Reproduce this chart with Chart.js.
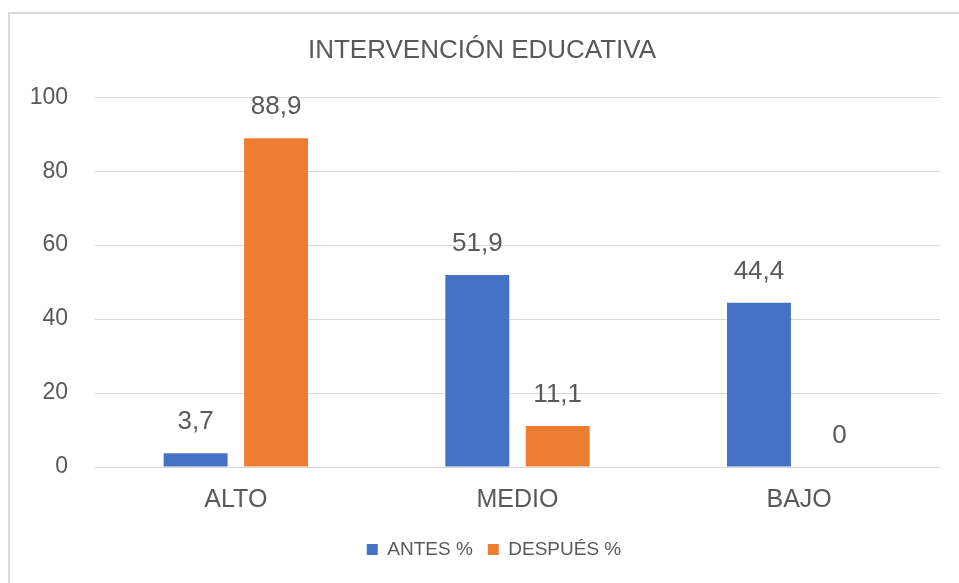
<!DOCTYPE html>
<html>
<head>
<meta charset="utf-8">
<script src="https://cdn.jsdelivr.net/npm/chart.js@4"></script>
<style>
	html, body { margin: 0; padding: 0; background: #fff; }
	#wrap { width: 959px; height: 583px; position: relative; }
</style>
</head>
<body>
<div id="wrap"><canvas id="chart" width="959" height="583"></canvas></div>
<script>
const categories = ['ALTO', 'MEDIO', 'BAJO']
const antes = [3.7, 51.9, 44.4]
const despues = [88.9, 11.1, 0]
const seriesNames = ['ANTES %', 'DESPUÉS %']
const yMin = 0
const yMax = 100
const yStep = 20

const textColor = '#595959'
const fontFamily = '"Liberation Sans", Arial, sans-serif'

// thin grey frame along top and left, like the pasted Excel chart
const frame = {
	id: 'frame',
	beforeDraw(chart) {
		const ctx = chart.ctx
		ctx.save()
		ctx.fillStyle = '#fff'
		ctx.fillRect(0, 0, chart.width, chart.height)
		ctx.strokeStyle = '#d9d9d9'
		ctx.lineWidth = 2
		ctx.beginPath()
		ctx.moveTo(9, chart.height)
		ctx.lineTo(9, 13)
		ctx.lineTo(chart.width, 13)
		ctx.stroke()
		ctx.restore()
	}
}

// legend sits a bit right of centre in the original
const legendShift = {
	id: 'legendShift',
	afterLayout(chart) {
		chart.legend.left += 12
		chart.legend.right += 12
	}
}

// value labels above each bar
const valueLabels = {
	id: 'valueLabels',
	afterDatasetsDraw(chart) {
		const ctx = chart.ctx
		ctx.save()
		ctx.font = '26px ' + fontFamily
		ctx.fillStyle = textColor
		ctx.textAlign = 'center'
		ctx.textBaseline = 'bottom'
		chart.data.datasets.forEach((ds, i) => {
			const meta = chart.getDatasetMeta(i)
			meta.data.forEach((bar, j) => {
				const txt = String(ds.data[j]).replace('.', ',')
				ctx.fillText(txt, bar.x, bar.y - 18)
			})
		})
		ctx.restore()
	}
}

new Chart(document.getElementById('chart'), {
	type: 'bar',
	data: {
		labels: categories,
		datasets: [{
			label: seriesNames[0],
			data: antes,
			backgroundColor: '#4472C4'
		}, {
			label: seriesNames[1],
			data: despues,
			backgroundColor: '#ED7D31'
		}]
	},
	options: {
		responsive: false,
		animation: false,
		layout: {
			padding: { left: 24, right: 19, top: 0, bottom: 14 }
		},
		datasets: {
			bar: {
				categoryPercentage: 0.571,
				barPercentage: 0.795
			}
		},
		plugins: {
			title: {
				display: true,
				text: 'INTERVENCIÓN EDUCATIVA',
				color: textColor,
				font: { family: fontFamily, size: 26, weight: 'normal' },
				padding: { top: 35, bottom: 31 }
			},
			legend: {
				position: 'bottom',
				labels: {
					color: textColor,
					font: { family: fontFamily, size: 19 },
					boxWidth: 11,
					boxHeight: 11,
					padding: 15
				}
			},
			tooltip: { enabled: false }
		},
		scales: {
			x: {
				grid: { display: false },
				border: { display: false },
				ticks: {
					color: textColor,
					font: { family: fontFamily, size: 25 },
					padding: 10
				}
			},
			y: {
				min: yMin,
				max: yMax,
				grid: { color: '#d9d9d9', drawTicks: false },
				border: { display: false },
				ticks: {
					stepSize: yStep,
					color: textColor,
					font: { family: fontFamily, size: 23 },
					padding: 27
				},
				afterFit(scale) {
					scale.width = 71
				}
			}
		}
	},
	plugins: [frame, legendShift, valueLabels]
})
</script>
</body>
</html>
